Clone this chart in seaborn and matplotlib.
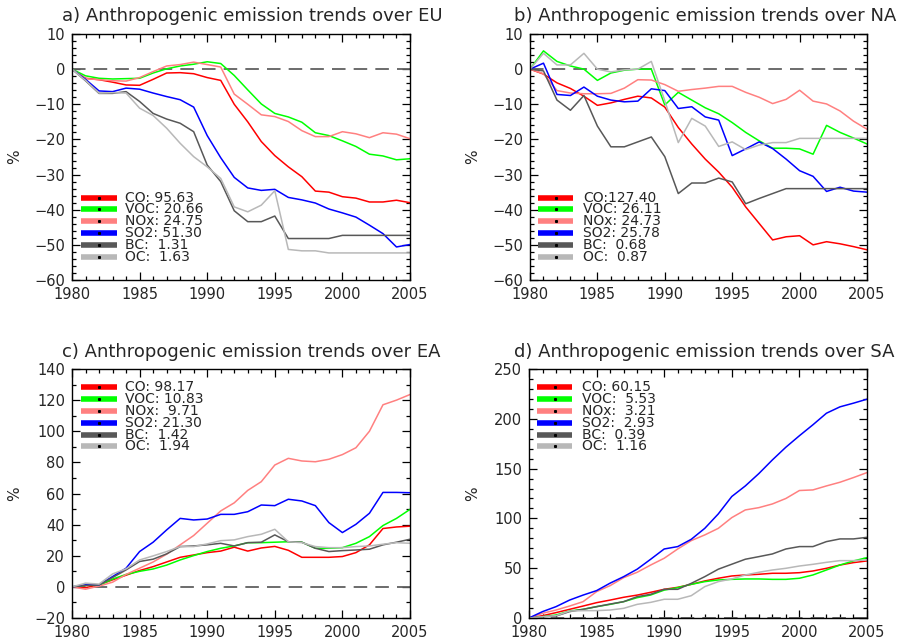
import numpy as np
import pandas as pd
import matplotlib
matplotlib.use("Agg")
import matplotlib.pyplot as plt
from matplotlib.ticker import MultipleLocator
import seaborn as sns

years = list(range(1980, 2006))
species = ["CO", "VOC", "NOx", "SO2", "BC", "OC"]
colors = ["#ff0000", "#00ff00", "#ff8080", "#0000ff", "#585858", "#b8b8b8"]

# ---- EU ----
eu_co = [0, -2.6, -3, -3.7, -4.5, -4.6, -2.9, -1.1, -1.0, -1.3, -2.4, -3.2, -10, -15, -20.6,
         -24.6, -27.8, -30.6, -34.7, -35, -36.3, -36.7, -37.8, -37.8, -37.3, -38]
eu_voc = [0, -1.9, -2.6, -2.8, -2.7, -2.6, -1.1, 0.1, 0.9, 1.4, 2.1, 1.6, -1.8, -5.9, -9.9,
          -12.6, -13.6, -15.1, -18.1, -18.9, -20.4, -22, -24.2, -24.7, -25.8, -25.5]
eu_nox = [0, -2.7, -3, -3.3, -3.4, -2.4, -0.7, 0.9, 1.3, 2.0, 1.3, 0.6, -7.1, -10, -13,
          -13.5, -14.9, -17.5, -19.2, -19.2, -17.8, -18.4, -19.5, -18.1, -18.5, -19.8]
eu_so2 = [0, -2.9, -6.2, -6.4, -5.4, -5.7, -6.8, -7.8, -8.7, -10.8, -18.9, -25.2, -30.8, -33.8, -34.5,
          -34.2, -36.5, -37.2, -38.1, -39.8, -40.9, -42.1, -44.4, -46.8, -50.6, -49.9]
eu_bc = [0, -3.3, -6.9, -6.9, -6.4, -9.2, -12.6, -14.2, -15.4, -17.8, -27.3, -32, -40.3, -43.4, -43.4,
         -41.8, -48.2, -48.2, -48.2, -48.2, -47.3, -47.3, -47.3, -47.3, -47.3, -47.3]
eu_oc = [0, -3.2, -6.8, -6.7, -6.8, -11.1, -13.2, -16.8, -21.1, -24.9, -27.8, -31.1, -39.2, -40.6, -38.7,
         -34.6, -51.3, -51.7, -51.7, -52.3, -52.3, -52.3, -52.3, -52.3, -52.3, -52.3]
eu_tot = [95.63, 20.66, 24.75, 51.30, 1.31, 1.63]

# ---- NA ----
na_co = [0, -1.4, -3.9, -5.5, -7.7, -10.3, -9.6, -8.6, -7.7, -8.2, -10.8, -16.6, -21.3, -25.6, -29.3,
         -33.6, -39.2, -43.9, -48.6, -47.7, -47.4, -50, -49.1, -49.7, -50.5, -51.4]
na_voc = [0, 5.2, 2.2, 0.9, 0, -3.2, -1.1, -0.3, 0, 0, -10.2, -6.6, -8.8, -11, -12.7,
          -15.2, -18, -20.4, -22.5, -22.5, -22.7, -24.2, -16, -18, -19.6, -21.3]
na_nox = [0, -1.3, -6.1, -6.8, -7, -7, -6.9, -5.4, -3, -3.1, -4.4, -6.3, -5.8, -5.4, -4.9,
          -4.9, -6.6, -8, -9.8, -8.6, -6, -9.1, -9.9, -11.9, -14.8, -17.1]
na_so2 = [0, 1.7, -7.2, -7.5, -5.1, -7.7, -8.8, -9.3, -9.1, -5.6, -6.1, -11.2, -10.7, -13.6, -14.5,
          -24.6, -22.7, -20.7, -22.6, -25.6, -28.9, -30.5, -34.8, -33.6, -34.7, -35]
na_bc = [0, -0.5, -8.8, -11.7, -7.5, -16.2, -22.1, -22.1, -20.7, -19.3, -24.9, -35.4, -32.4, -32.4, -31,
         -32.1, -38.3, -36.8, -35.4, -34, -34, -34, -34, -34, -34, -34]
na_oc = [0, 4.5, 1.2, 1.2, 4.5, 0, -0.8, -0.2, 0, 2.2, -9, -20.9, -14, -16.2, -22,
         -20.7, -22.9, -21.6, -20.9, -20.9, -19.7, -19.7, -19.7, -19.7, -19.7, -19.7]
na_tot = [127.40, 26.11, 24.73, 25.78, 0.68, 0.87]

# ---- EA ----
ea_co = [0, -0.5, 1.3, 4.5, 7.5, 10.5, 13, 16, 19, 20.5, 22, 23, 25.5, 23, 25,
         26, 23.5, 19, 19, 19, 19.5, 22, 27, 37.5, 38.5, 39]
ea_voc = [0, 1, 1, 5, 8, 10, 11.5, 14, 17.3, 20.1, 22.7, 24.8, 26.3, 28.4, 28.4,
          28.7, 29, 28.7, 24.8, 24.8, 25.2, 28, 32.3, 39.4, 44, 49.8]
ea_nox = [0, -1.5, 0.5, 3, 8, 12, 16, 21, 27, 33, 40.9, 48.8, 54, 62, 67.6,
          78.3, 82.6, 80.9, 80.4, 82, 85, 89.4, 100, 117, 120, 123.6]
ea_so2 = [0, 1.3, 1.3, 6.6, 12, 22.7, 28.7, 36.6, 44, 43, 43.6, 46.6, 46.6, 48.3, 52.6,
          52.2, 56.3, 55.2, 52.2, 41.3, 34.9, 40.2, 47.3, 60.7, 60.7, 60.5]
ea_bc = [0, 0.9, 1.3, 6, 10.9, 16.3, 17.8, 21.2, 25.9, 26.3, 27, 28, 26.3, 28.4, 28.7,
         33.4, 29, 28.7, 24.8, 22.7, 23.3, 23.7, 24.2, 27, 28.7, 30.6]
ea_oc = [0, 2.4, 1.8, 8.3, 11.6, 17.3, 19.9, 22.7, 25.9, 25.9, 27.6, 29.7, 30.2, 32.3, 33.8,
         37, 29, 28.4, 25.9, 25.2, 25.2, 25.9, 26.3, 27.4, 28.4, 28]
ea_tot = [98.17, 10.83, 9.71, 21.30, 1.42, 1.94]

# ---- SA ----
sa_co = [0, 2.3, 5.4, 8.7, 12, 15.4, 18, 20.8, 23, 25.8, 28.8, 30.8, 33.8, 37.2, 39.9,
         42.2, 43.2, 43.9, 44.9, 44.9, 45.5, 47.2, 49.9, 53.2, 55.6, 57.3]
sa_voc = [0, 1.3, 3, 7, 8.7, 11.4, 13.7, 16.4, 20.4, 23.1, 28, 30.5, 33.8, 36.5, 38.2,
          38.8, 39.2, 39.2, 38.8, 38.8, 39.9, 43.2, 48.2, 53.2, 57.3, 60.6]
sa_nox = [0, 4.7, 8, 12, 16.4, 26.5, 32.5, 40.5, 45.9, 53.2, 60, 69.3, 77.7, 83.4, 90,
          100.8, 108.5, 110.8, 114.5, 120, 128, 128.6, 132.6, 136.3, 141, 146]
sa_so2 = [0, 6.4, 11.4, 18, 23, 27.5, 35, 41.5, 49, 59, 69.3, 71.7, 79, 90, 104.5,
          122, 132.6, 145, 158.7, 171.5, 183, 194, 205.6, 212, 215.7, 219.7]
sa_bc = [0, 1.3, 2, 6.4, 8.7, 11.4, 14, 16.4, 21.4, 23.8, 28.8, 28.8, 34.8, 41.5, 49,
         54, 59, 61.6, 64.3, 69.3, 71.7, 71.7, 76.7, 79.4, 79.4, 81]
sa_oc = [0, 1.3, 2.3, 7, 7.4, 7.4, 8, 9.7, 13.7, 15.7, 18.8, 18.8, 22.4, 31.5, 36.5,
         39.2, 43.2, 45.9, 48.2, 49.9, 52.2, 53.9, 55.9, 57.6, 57.6, 58.3]
sa_tot = [60.15, 5.53, 3.21, 2.93, 0.39, 1.16]

titles = ["a) Anthropogenic emission trends over EU",
          "b) Anthropogenic emission trends over NA",
          "c) Anthropogenic emission trends over EA",
          "d) Anthropogenic emission trends over SA"]

regions = [
    ([eu_co, eu_voc, eu_nox, eu_so2, eu_bc, eu_oc], eu_tot),
    ([na_co, na_voc, na_nox, na_so2, na_bc, na_oc], na_tot),
    ([ea_co, ea_voc, ea_nox, ea_so2, ea_bc, ea_oc], ea_tot),
    ([sa_co, sa_voc, sa_nox, sa_so2, sa_bc, sa_oc], sa_tot),
]

sns.set_style("ticks")
plt.rcParams["font.family"] = ["DejaVu Sans"]

W, H = 897, 642
fig = plt.figure(figsize=(W / 100, H / 100), dpi=100)

# axes boxes in pixels: (left, top, right, bottom)
boxes = [(72, 34, 410, 280), (530, 34, 867, 280),
         (72, 369, 410, 618), (529, 369, 867, 618)]
ylims = [(-60, 10), (-60, 10), (-20, 140), (0, 250)]
ymaj = [10, 10, 20, 50]
ymin = [2, 2, 10, 10]
leg_top = [0.3346, 0.3346, 0.9265, 0.9265]
leg_dy = [0.048, 0.048, 0.0474, 0.0474]
title_x = [62, 514, 62, 514]
title_y = [16, 16, 352, 352]
ylab_x = [22, 480, 22, 480]

for k, ((series, totals), box) in enumerate(zip(regions, boxes)):
    l, t, r, b = box
    ax = fig.add_axes([l / W, 1 - b / H, (r - l) / W, (b - t) / H])
    df = pd.DataFrame({
        "year": years * len(species),
        "value": [v for s in series for v in s],
        "species": [sp for sp in species for _ in years],
    })
    ax.axhline(0, color="#606060", lw=1.3, ls=(0, (7.5, 4.5)), zorder=1)
    sns.lineplot(data=df, x="year", y="value", hue="species", hue_order=species,
                 palette=colors, ax=ax, legend=False, linewidth=1.1, zorder=2)
    ax.set_xlim(1980, 2005)
    ax.set_ylim(*ylims[k])
    ax.xaxis.set_major_locator(MultipleLocator(5))
    ax.xaxis.set_minor_locator(MultipleLocator(1))
    ax.yaxis.set_major_locator(MultipleLocator(ymaj[k]))
    ax.yaxis.set_minor_locator(MultipleLocator(ymin[k]))
    ax.tick_params(which="both", direction="in", top=True, right=True, labelsize=10.5,
                   color="black", width=0.9)
    ax.tick_params(which="major", length=6, pad=5)
    ax.tick_params(which="minor", length=3)
    for sp in ax.spines.values():
        sp.set_linewidth(1.0)
        sp.set_color("black")
    ax.set_xlabel("")
    ax.set_ylabel("%", fontsize=11)
    ax.yaxis.set_label_coords(-(l - ylab_x[k]) / (r - l), 0.5)

    # legend
    for i, (sp, c, v) in enumerate(zip(species, colors, totals)):
        yy = leg_top[k] - i * leg_dy[k]
        x0 = (81 - 72) / 338 if k % 2 == 0 else 0.024
        x1 = (117 - 72) / 338 if k % 2 == 0 else 0.128
        ax.plot([x0, x1], [yy, yy], transform=ax.transAxes, color=c, lw=4,
                solid_capstyle="butt", clip_on=False, zorder=5)
        ax.plot([(x0 + x1) / 2], [yy], transform=ax.transAxes, marker="s", ms=1.2,
                color="black", zorder=6)
        ax.text(0.157, yy, f"{sp}:{v:6.2f}", transform=ax.transAxes, fontsize=10,
                va="center", ha="left", zorder=6)

    fig.text(title_x[k] / W, 1 - title_y[k] / H, titles[k], fontsize=13, va="center",
             ha="left")

fig.savefig("out.png", dpi=100)
